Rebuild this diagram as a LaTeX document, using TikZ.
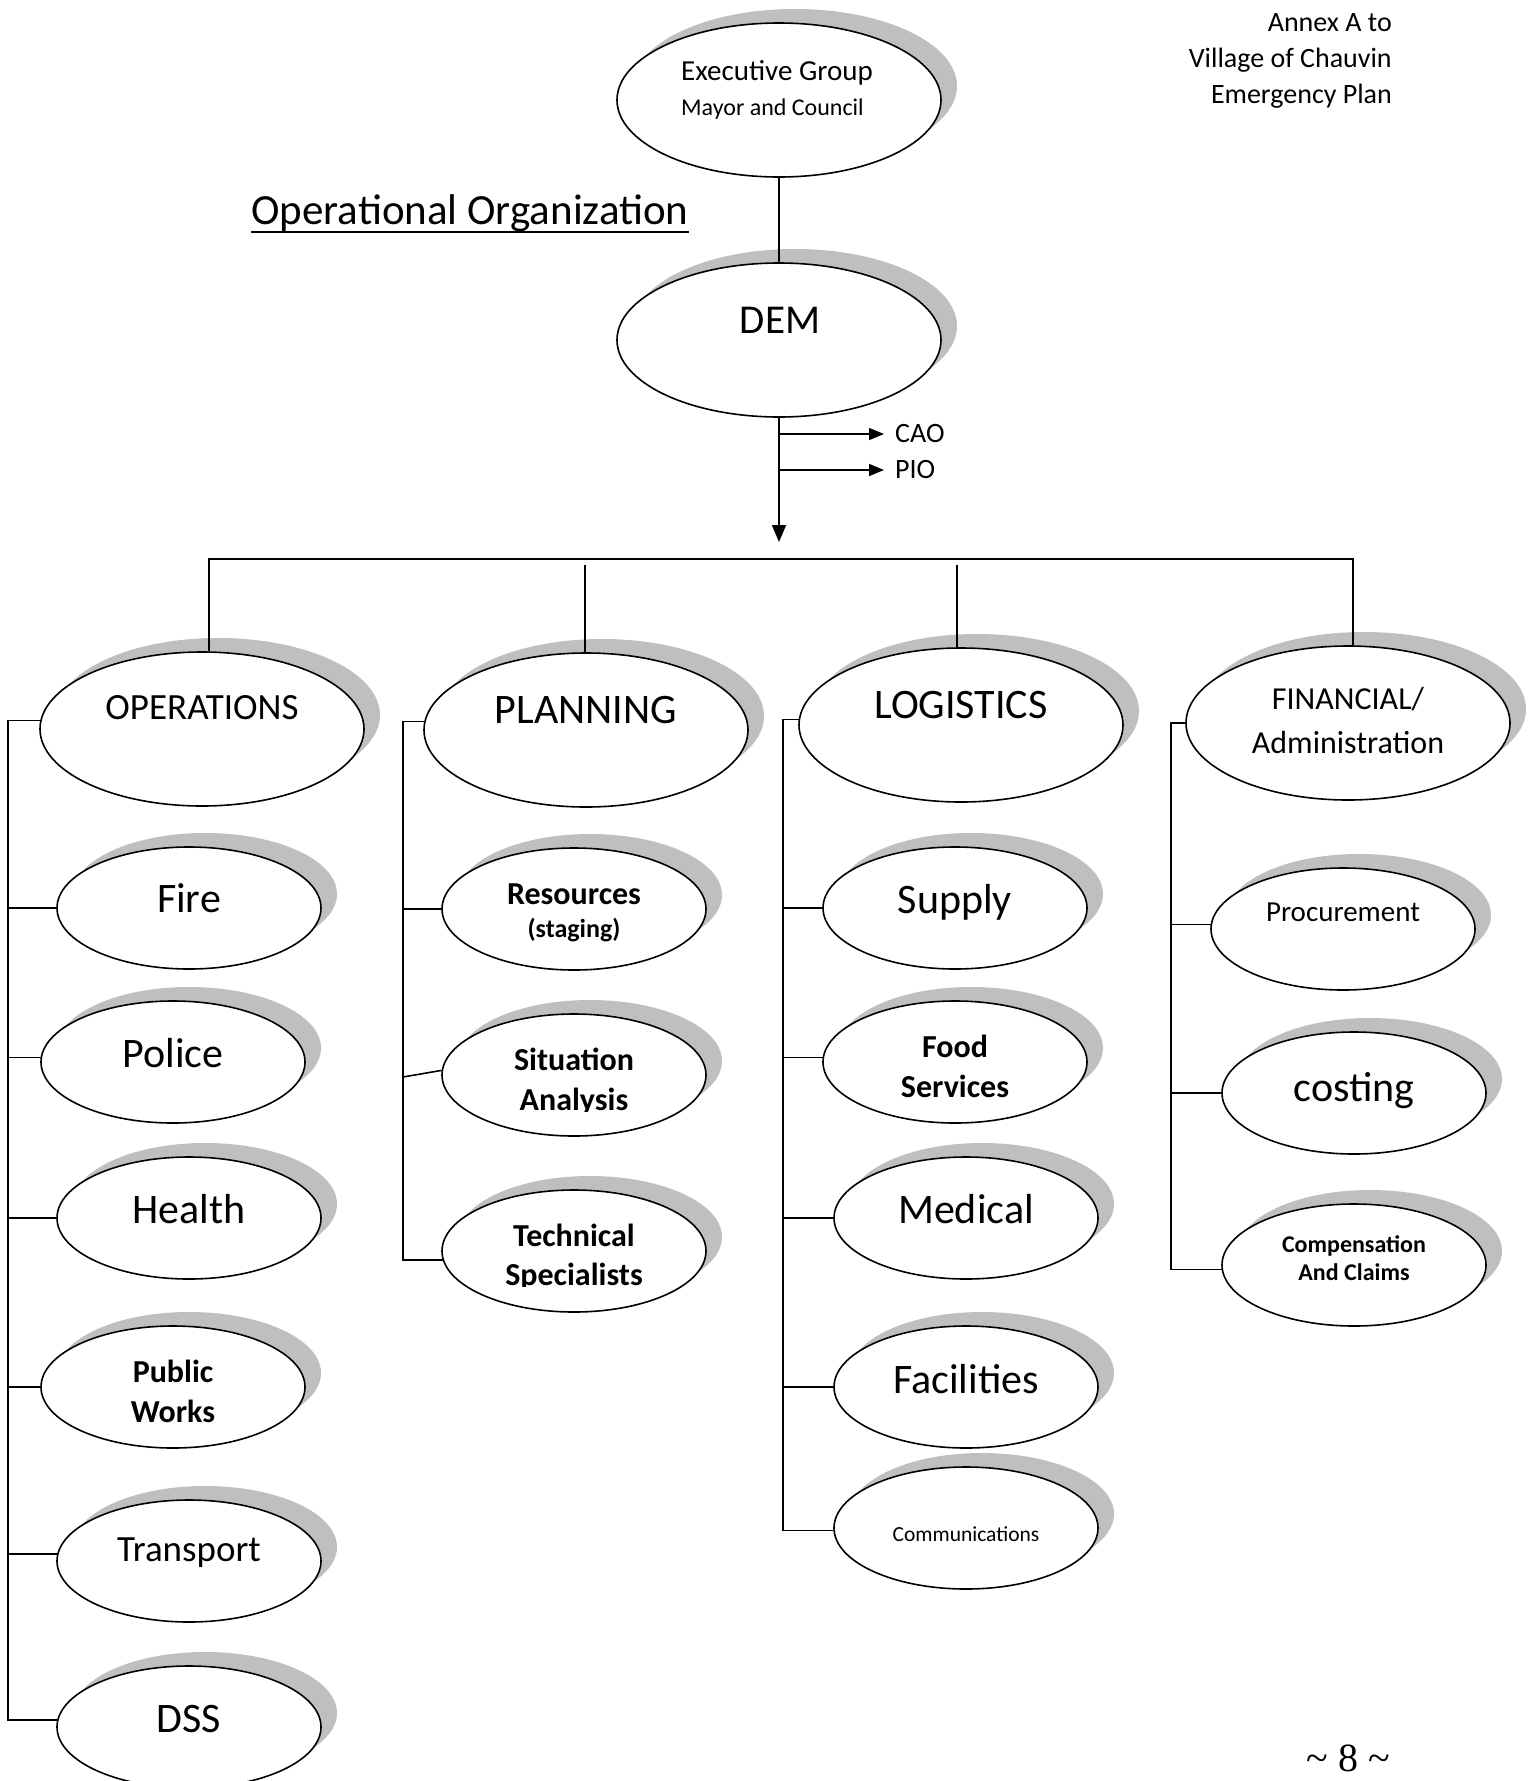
\documentclass[tikz,border=0pt]{standalone}
\usepackage{fontspec}
\setmainfont{Carlito}
\newfontfamily\pgnumfont{Liberation Serif}
\usetikzlibrary{shapes.geometric,shadows,arrows.meta}
\definecolor{shadowgray}{RGB}{191,191,191}
\tikzset{
  oval/.style={ellipse, draw=black, line width=1.6pt, fill=white, inner sep=0pt,
    drop shadow={shadow xshift=16pt, shadow yshift=14pt, fill=shadowgray, opacity=1, draw=none}},
  big/.style={oval, minimum width=324pt, minimum height=154pt},
  small/.style={oval, minimum width=264pt, minimum height=122pt},
  txt/.style={inner sep=0pt, text depth=0pt},
  fs/.style={font=\fontsize{#1}{#1}\selectfont, text height=0.64*#1pt},
  fb/.style={font=\fontsize{#1}{#1}\selectfont\bfseries, text height=0.64*#1pt},
  conn/.style={line width=1.6pt, draw=black},
}
\begin{document}
\begin{tikzpicture}[x=1pt,y=-1pt]
\useasboundingbox (0,0) rectangle (1536,1781);
\fill[white] (0,0) rectangle (1536,1781);

% header texts
\node[txt, fs=28, anchor=east] (annexA) at (1392,23) {Annex A to};
\node[txt, fs=28, anchor=east] (annexB) at (1392,59) {Village of Chauvin};
\node[txt, fs=28, anchor=east] (annexC) at (1392,95) {Emergency Plan};
\node[txt, fs=43] (title) at (470,211) {Operational Organization};
\draw[line width=2.4pt] ([yshift=-7pt]title.base west) -- ([yshift=-7pt]title.base east);

% top
\node[big] (exec) at (779,100) {};
\node[txt, fs=29, anchor=west] (execA) at (681,71) {Executive Group};
\node[txt, fs=24, anchor=west] (execB) at (681,108) {Mayor and Council};
\node[big] (dem) at (779,340) {};
\node[txt, fs=41] (demT) at (780,320) {DEM};
\draw[conn] (exec.south) -- (dem.north);

\coordinate (tip) at (779,542);
\draw[conn, -{Triangle[length=17pt,width=14pt]}] (dem.south) -- (tip);
\node[txt, fs=28, anchor=west] (cao) at (895,434) {CAO};
\node[txt, fs=28, anchor=west] (pio) at (895,470) {PIO};
\draw[conn, -{Triangle[length=15pt,width=12pt]}] (dem.south |- cao.west) -- ([xshift=-11pt]cao.west);
\draw[conn, -{Triangle[length=15pt,width=12pt]}] (dem.south |- pio.west) -- ([xshift=-11pt]pio.west);

% level 2
\node[big] (ops) at (202,729) {};
\node[txt, fs=37] (opsT) at (202,708) {OPERATIONS};
\node[big] (plan) at (586,730) {};
\node[txt, fs=42] (planT) at (586,710) {PLANNING};
\node[big] (log) at (961,725) {};
\node[txt, fs=42] (logT) at (961,705) {LOGISTICS};
\node[big] (fin) at (1348,723) {};
\node[txt, fs=32] (finA) at (1348,699) {FINANCIAL/};
\node[txt, fs=32] (finB) at (1348,743) {Administration};

\coordinate (busL) at (209,559);
\coordinate (busR) at (1353,559);
\coordinate (busP) at (585,565);
\coordinate (busG) at (957,565);
\draw[conn] (busL |- ops.north) -- (busL) -- (busR) -- (busR |- fin.north);
\draw[conn] (busP) -- (busP |- plan.north);
\draw[conn] (busG) -- (busG |- log.north);

% operations column
\node[small] (fire) at (189,908) {};
\node[txt, fs=42] (fireT) at (189,899) {Fire};
\node[small] (police) at (173,1062) {};
\node[txt, fs=42] (policeT) at (173,1054) {Police};
\node[small] (health) at (189,1218) {};
\node[txt, fs=42] (healthT) at (189,1210) {Health};
\node[small] (pw) at (173,1387) {};
\node[txt, fb=32] (pwA) at (173,1372) {Public};
\node[txt, fb=32] (pwB) at (173,1412) {Works};
\node[small] (transport) at (189,1561) {};
\node[txt, fs=37] (transportT) at (189,1550) {Transport};
\node[small] (dss) at (189,1727) {};
\node[txt, fs=42] (dssT) at (189,1719) {DSS};

\coordinate (cO) at (8,0);
\draw[conn] (ops.177) -- (cO |- ops.177) -- (cO |- dss.177) -- (dss.177);
\foreach \n/\a in {fire/180, police/178, health/180, pw/180, transport/177}
  \draw[conn] (cO |- \n.\a) -- (\n.\a);

% planning column
\node[small] (res) at (574,909) {};
\node[txt, fb=32] (resA) at (574,894) {Resources};
\node[txt, fb=26] (resB) at (574,929) {(staging)};
\node[small] (sit) at (574,1075) {};
\node[txt, fb=32] (sitA) at (574,1060) {Situation};
\begin{scope}
  \clip (440,1070) rectangle (710,1111);
  \node[txt, fb=32] (sitB) at (574,1100) {Analysis};
\end{scope}
\node[small] (tech) at (574,1251) {};
\node[txt, fb=32] (techA) at (574,1236) {Technical};
\begin{scope}
  \clip (440,1245) rectangle (710,1286);
  \node[txt, fb=32] (techB) at (574,1275) {Specialists};
\end{scope}

\coordinate (cP) at (403,0);
\coordinate (sitS) at (403,1077);
\draw[conn] (plan.177) -- (cP |- plan.177) -- (cP |- tech.184) -- (tech.184);
\draw[conn] (cP |- res.180) -- (res.180);
\draw[conn] (sitS) -- (sit.178);

% logistics column
\node[small] (supply) at (955,908) {};
\node[txt, fs=42] (supplyT) at (955,900) {Supply};
\node[small] (food) at (955,1062) {};
\node[txt, fb=32] (foodA) at (955,1047) {Food};
\node[txt, fb=32] (foodB) at (955,1087) {Services};
\node[small] (med) at (966,1218) {};
\node[txt, fs=42] (medT) at (966,1210) {Medical};
\node[small] (fac) at (966,1387) {};
\node[txt, fs=42] (facT) at (966,1380) {Facilities};
\node[small] (comm) at (966,1528) {};
\node[txt, fs=21.5] (commT) at (966,1535) {Communications};

\coordinate (cL) at (783,0);
\draw[conn] (log.178) -- (cL |- log.178) -- (cL |- comm.181) -- (comm.181);
\foreach \n/\a in {supply/180, food/178, med/180, fac/180}
  \draw[conn] (cL |- \n.\a) -- (\n.\a);

% financial column
\node[small] (proc) at (1343,929) {};
\node[txt, fs=29] (procT) at (1343,912) {Procurement};
\node[small] (cost) at (1354,1093) {};
\node[txt, fs=42] (costT) at (1354,1088) {costing};
\node[small] (comp) at (1354,1265) {};
\node[txt, fb=24] (compA) at (1354,1245) {Compensation};
\node[txt, fb=24] (compB) at (1354,1273) {And Claims};

\coordinate (cF) at (1171,0);
\draw[conn] (fin.180) -- (cF |- fin.180) -- (cF |- comp.182) -- (comp.182);
\foreach \n/\a in {proc/178, cost/180}
  \draw[conn] (cF |- \n.\a) -- (\n.\a);

% page number
\node[txt, font=\pgnumfont\fontsize{40}{40}\selectfont, text height=25.6pt] (pgnum) at (1348,1759) {\char`\~{} 8 \char`\~};
\end{tikzpicture}
\end{document}
